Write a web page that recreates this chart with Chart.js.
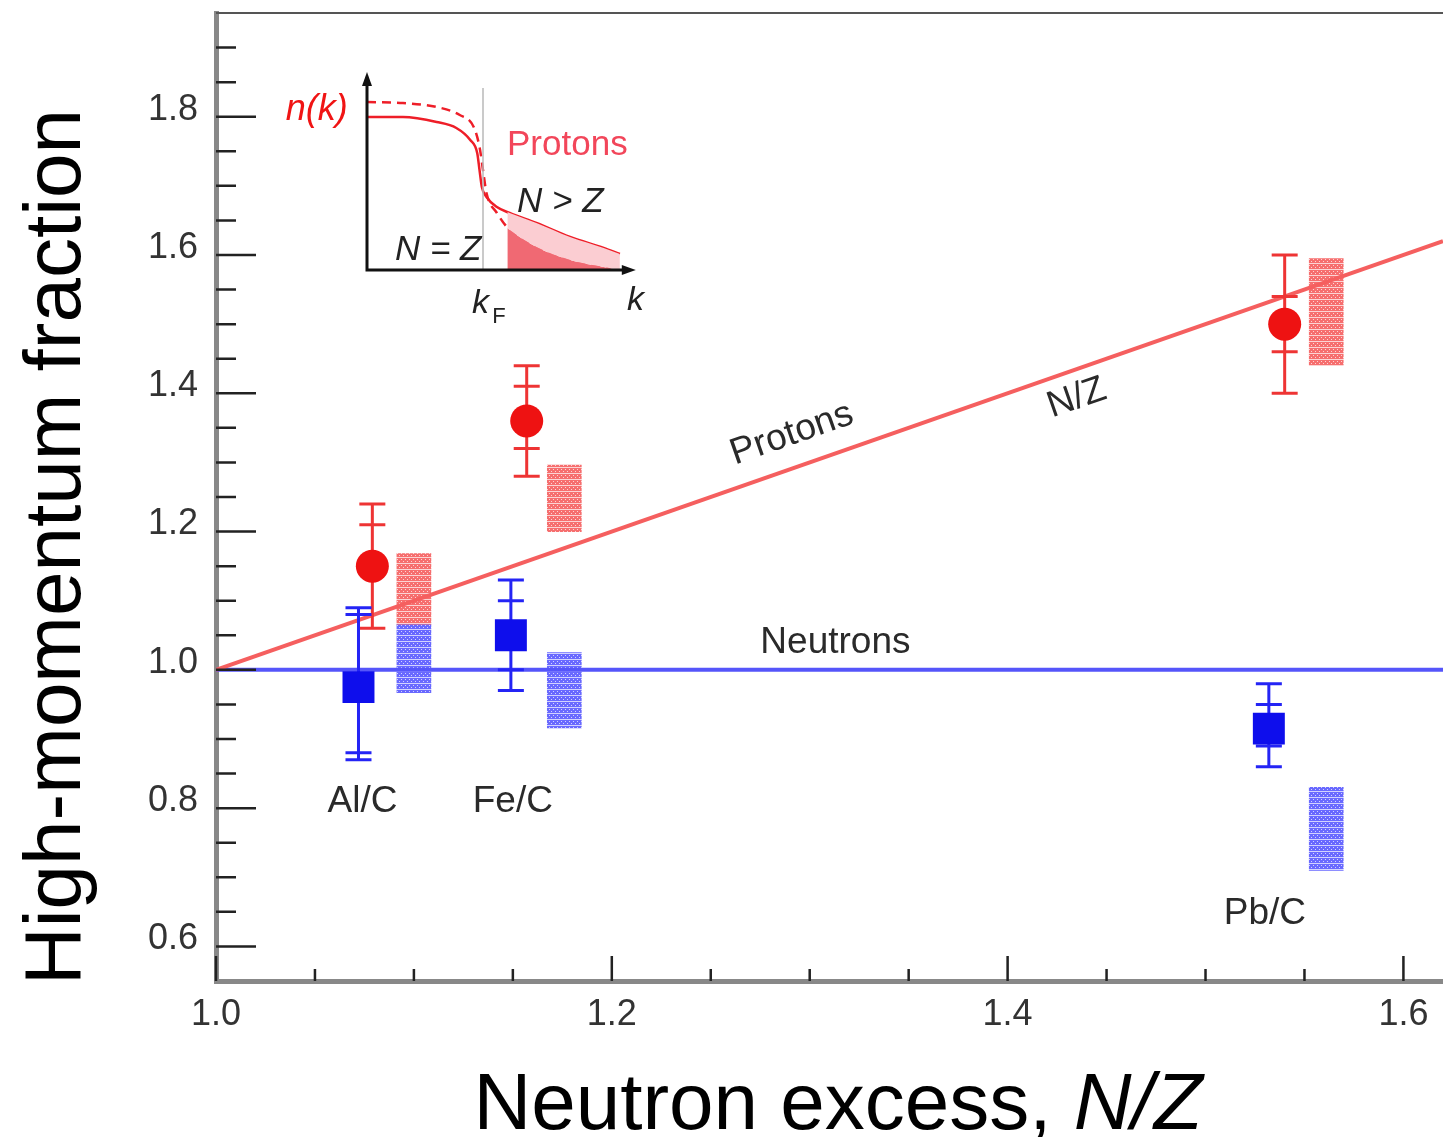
<!DOCTYPE html>
<html lang="en">
<head>
<meta charset="UTF-8">
<title>High-momentum fraction vs neutron excess</title>
<script src="https://cdn.jsdelivr.net/npm/chart.js"></script>
<style>
  body { margin: 0; background: #fff; }
  #wrap { position: relative; width: 1443px; height: 1137px; }
  #mainChart { position: absolute; left: 0; top: 0; }
  #insetChart { position: absolute; left: 280px; top: 60px; }
</style>
</head>
<body>
<div id="wrap">
  <canvas id="mainChart" width="1443" height="1137"></canvas>
  <canvas id="insetChart" width="380" height="280"></canvas>
</div>
<script>
// measured ratios (target / carbon)
const targets = ['Al/C', 'Fe/C', 'Pb/C'];
const protonX = [1.079, 1.157, 1.540];
const protonY = [1.15, 1.36, 1.50];
const protonStatLo = [1.06, 1.32, 1.46];
const protonStatHi = [1.21, 1.41, 1.54];
const protonTotLo = [1.06, 1.28, 1.40];
const protonTotHi = [1.24, 1.44, 1.60];

const neutronX = [1.072, 1.149, 1.532];
const neutronY = [0.975, 1.05, 0.915];
const neutronStatLo = [0.88, 1.00, 0.89];
const neutronStatHi = [1.08, 1.10, 0.95];
const neutronTotLo = [0.87, 0.97, 0.86];
const neutronTotHi = [1.09, 1.13, 0.98];

// theory bands, drawn just right of the data
const bandX = [1.100, 1.176, 1.561];
const protonBandLo = [1.066, 1.200, 1.440];
const protonBandHi = [1.168, 1.296, 1.595];
const neutronBandLo = [0.967, 0.916, 0.710];
const neutronBandHi = [1.066, 1.025, 0.830];

// reference lines
const lineX = [1.0, 1.62];
const protonLine = [1.0, 1.62];
const neutronLine = [1.0, 1.0];

// axes
const xMajor = [1.0, 1.2, 1.4, 1.6];
const xMinor = [1.05, 1.1, 1.15, 1.25, 1.3, 1.35, 1.45, 1.5, 1.55];
const yMajor = [0.6, 0.8, 1.0, 1.2, 1.4, 1.6, 1.8];
const yMinor = [0.65, 0.7, 0.75, 0.85, 0.9, 0.95, 1.05, 1.1, 1.15, 1.25, 1.3, 1.35,
                1.45, 1.5, 1.55, 1.65, 1.7, 1.75, 1.85, 1.9];

// inset: momentum distribution sketch (k in units of kF)
const kSolid = [0, 0.31, 0.60, 0.77, 0.89, 0.95, 0.97, 0.99, 1.03, 1.12, 1.23, 1.46, 1.75, 2.04, 2.18];
const nSolid = [1.53, 1.53, 1.48, 1.42, 1.30, 1.17, 1.00, 0.83, 0.73, 0.63, 0.57, 0.47, 0.33, 0.22, 0.16];
const kDashed = [0, 0.31, 0.60, 0.80, 0.92, 0.97, 1.00, 1.03, 1.12, 1.23, 1.46, 1.75, 2.04, 2.10];
const nDashed = [1.68, 1.67, 1.63, 1.55, 1.43, 1.23, 1.00, 0.77, 0.57, 0.40, 0.23, 0.10, 0.03, 0.02];
const shadeK = [1.21, 1.23, 1.46, 1.75, 2.04, 2.18];
const shadeHi = [0.58, 0.57, 0.47, 0.33, 0.22, 0.16];
const shadeLo = [0.42, 0.40, 0.23, 0.10, 0.03, 0.0];
const kFLineK = [1.0, 1.0];
const kFLineN = [0, 1.82];

const FONT = '"Liberation Sans", Arial, Helvetica, sans-serif';

// text annotations in data units
const notes = [
  { text: 'Al/C', x: 1.074, y: 0.809 },
  { text: 'Fe/C', x: 1.150, y: 0.809 },
  { text: 'Pb/C', x: 1.530, y: 0.647 },
  { text: 'Neutrons', x: 1.313, y: 1.039 }
];

const zip = (xs, ys) => xs.map((v, i) => ({ x: v, y: ys[i] }));

function dotted(base) {
  const t = document.createElement('canvas');
  t.width = 4; t.height = 6;
  const c = t.getContext('2d');
  c.fillStyle = base;
  c.fillRect(0, 0, 4, 6);
  c.fillStyle = 'rgba(255,255,255,0.7)';
  c.fillRect(1, 1, 1, 1);
  c.fillRect(3, 3, 1, 1);
  c.fillRect(0, 5, 4, 1);
  return c.createPattern(t, 'repeat');
}

function drawBars(ctx, x, y, xs, lo, hi, slo, shi, color) {
  ctx.save();
  ctx.strokeStyle = color;
  ctx.lineWidth = 3;
  xs.forEach((v, i) => {
    const px = x.getPixelForValue(v);
    ctx.beginPath();
    ctx.moveTo(px, y.getPixelForValue(lo[i]));
    ctx.lineTo(px, y.getPixelForValue(hi[i]));
    [lo[i], hi[i], slo[i], shi[i]].forEach(e => {
      const py = y.getPixelForValue(e);
      ctx.moveTo(px - 13, py);
      ctx.lineTo(px + 13, py);
    });
    ctx.stroke();
  });
  ctx.restore();
}

const errorBars = {
  id: 'errorBars',
  beforeDatasetDraw(chart, args) {
    const { ctx, scales: { x, y } } = chart;
    if (args.index === 4) drawBars(ctx, x, y, protonX, protonTotLo, protonTotHi, protonStatLo, protonStatHi, '#ee3434');
    if (args.index === 5) drawBars(ctx, x, y, neutronX, neutronTotLo, neutronTotHi, neutronStatLo, neutronStatHi, '#2424f5');
  }
};

const frame = {
  id: 'frame',
  afterDraw(chart) {
    const { ctx, chartArea: a, scales: { x, y } } = chart;
    ctx.save();
    // top frame line
    ctx.strokeStyle = '#555';
    ctx.lineWidth = 2;
    ctx.beginPath();
    ctx.moveTo(a.left, a.top);
    ctx.lineTo(a.right, a.top);
    ctx.stroke();

    // inward ticks
    ctx.strokeStyle = '#222';
    ctx.lineWidth = 2.5;
    ctx.beginPath();
    yMajor.forEach(v => { const p = y.getPixelForValue(v); ctx.moveTo(a.left, p); ctx.lineTo(a.left + 40, p); });
    yMinor.forEach(v => { const p = y.getPixelForValue(v); ctx.moveTo(a.left, p); ctx.lineTo(a.left + 20, p); });
    xMajor.forEach(v => { const p = x.getPixelForValue(v); ctx.moveTo(p, a.bottom); ctx.lineTo(p, a.bottom - 25); });
    xMinor.forEach(v => { const p = x.getPixelForValue(v); ctx.moveTo(p, a.bottom); ctx.lineTo(p, a.bottom - 12); });
    ctx.stroke();

    // labels in the plot
    ctx.fillStyle = '#2a2a2a';
    ctx.font = `37px ${FONT}`;
    ctx.textAlign = 'center';
    ctx.textBaseline = 'middle';
    notes.forEach(n => ctx.fillText(n.text, x.getPixelForValue(n.x), y.getPixelForValue(n.y)));

    const ang = Math.atan2(y.getPixelForValue(1.62) - y.getPixelForValue(1.0),
                           x.getPixelForValue(1.62) - x.getPixelForValue(1.0));
    [['Protons', 1.291, 1.341], ['N/Z', 1.435, 1.393]].forEach(([t, vx, vy]) => {
      ctx.save();
      ctx.translate(x.getPixelForValue(vx), y.getPixelForValue(vy));
      ctx.rotate(ang);
      ctx.fillText(t, 0, 0);
      ctx.restore();
    });

    // axis titles
    ctx.fillStyle = '#000';
    ctx.font = `80px ${FONT}`;
    ctx.textBaseline = 'alphabetic';
    ctx.save();
    ctx.translate(80, 547);
    ctx.rotate(-Math.PI / 2);
    ctx.fillText('High-momentum fraction', 0, 0);
    ctx.restore();

    const part1 = 'Neutron excess, ';
    const w1 = ctx.measureText(part1).width;
    ctx.font = `italic 80px ${FONT}`;
    const w2 = ctx.measureText('N/Z').width;
    const sx = 838 - (w1 + w2) / 2;
    ctx.textAlign = 'left';
    ctx.font = `80px ${FONT}`;
    ctx.fillText(part1, sx, 1129);
    ctx.font = `italic 80px ${FONT}`;
    ctx.fillText('N/Z', sx + w1, 1129);
    ctx.restore();
  }
};

// keep the plot box fixed: no extra room for overhanging tick labels
function pinBox(s, w, h) {
  if (w !== null) s.width = w;
  if (h !== null) s.height = h;
  s.paddingLeft = 0;
  s.paddingRight = 0;
  s.paddingTop = 0;
  s.paddingBottom = 0;
}

new Chart(document.getElementById('mainChart'), {
  type: 'scatter',
  data: {
    datasets: [
      {
        type: 'bar', label: 'Proton band', order: 3, grouped: false,
        data: bandX.map((v, i) => ({ x: v, y: [protonBandLo[i], protonBandHi[i]] })),
        backgroundColor: dotted('rgb(246,110,110)'), borderWidth: 0, barThickness: 34
      },
      {
        type: 'bar', label: 'Neutron band', order: 3, grouped: false,
        data: bandX.map((v, i) => ({ x: v, y: [neutronBandLo[i], neutronBandHi[i]] })),
        backgroundColor: dotted('rgb(105,105,255)'), borderWidth: 0, barThickness: 34
      },
      {
        type: 'line', label: 'Protons N/Z', order: 2,
        data: zip(lineX, protonLine),
        borderColor: 'rgb(245,95,95)', borderWidth: 4, pointRadius: 0
      },
      {
        type: 'line', label: 'Neutrons', order: 2,
        data: zip(lineX, neutronLine),
        borderColor: 'rgb(85,85,250)', borderWidth: 4, pointRadius: 0
      },
      {
        label: 'Protons', order: 1,
        data: zip(protonX, protonY),
        pointStyle: 'circle', pointRadius: 16.5, backgroundColor: 'rgb(238,18,18)', borderWidth: 0
      },
      {
        label: 'Neutrons data', order: 0,
        data: zip(neutronX, neutronY),
        pointStyle: 'rect', pointRadius: 22.6, backgroundColor: 'rgb(14,14,236)', borderWidth: 0
      }
    ]
  },
  options: {
    responsive: false,
    devicePixelRatio: 1,
    animation: false,
    events: [],
    layout: { autoPadding: false, padding: { top: 13, left: 0, right: 0, bottom: 0 } },
    plugins: { legend: { display: false }, tooltip: { enabled: false } },
    scales: {
      x: {
        type: 'linear', min: 1.0, max: 1.62, offset: false,
        afterFit: s => pinBox(s, null, 156),
        afterBuildTicks: s => { s.ticks = xMajor.map(value => ({ value })); },
        grid: { display: false, drawTicks: false },
        border: { display: true, color: '#888', width: 5 },
        ticks: { padding: 12, color: '#333', font: { size: 36, family: FONT }, callback: v => v.toFixed(1) }
      },
      y: {
        type: 'linear', min: 0.55, max: 1.95,
        afterFit: s => pinBox(s, 216, null),
        afterBuildTicks: s => { s.ticks = yMajor.map(value => ({ value })); },
        grid: { display: false, drawTicks: false },
        border: { display: true, color: '#888', width: 5 },
        ticks: { padding: 18, labelOffset: -7, color: '#333', font: { size: 36, family: FONT }, callback: v => v.toFixed(1) }
      }
    }
  },
  plugins: [errorBars, frame]
});

// inset sketch
const insetDecor = {
  id: 'insetDecor',
  afterDatasetsDraw(chart) {
    const { ctx, chartArea: a, scales: { x, y } } = chart;
    ctx.save();
    ctx.strokeStyle = '#111';
    ctx.fillStyle = '#111';
    ctx.lineWidth = 3;
    ctx.beginPath();
    ctx.moveTo(a.left, a.top + 8);
    ctx.lineTo(a.left, a.bottom);
    ctx.lineTo(a.right - 8, a.bottom);
    ctx.stroke();
    ctx.beginPath();
    ctx.moveTo(a.left, a.top - 3);
    ctx.lineTo(a.left - 5, a.top + 11);
    ctx.lineTo(a.left + 5, a.top + 11);
    ctx.closePath();
    ctx.fill();
    ctx.beginPath();
    ctx.moveTo(a.right + 2, a.bottom);
    ctx.lineTo(a.right - 12, a.bottom - 5);
    ctx.lineTo(a.right - 12, a.bottom + 5);
    ctx.closePath();
    ctx.fill();

    const put = (t, k, n, font, color) => {
      ctx.font = font;
      ctx.fillStyle = color;
      ctx.fillText(t, x.getPixelForValue(k), y.getPixelForValue(n));
    };
    ctx.textAlign = 'left';
    ctx.textBaseline = 'alphabetic';
    put('n(k)', -0.70, 1.50, `italic 36px ${FONT}`, 'rgb(240,20,20)');
    put('Protons', 1.207, 1.15, `35px ${FONT}`, 'rgb(242,70,90)');
    put('N > Z', 1.293, 0.58, `italic 35px ${FONT}`, '#222');
    put('N = Z', 0.241, 0.10, `italic 35px ${FONT}`, '#222');
    put('k', 0.905, -0.43, `italic 34px ${FONT}`, '#222');
    put('F', 1.08, -0.53, `22px ${FONT}`, '#222');
    put('k', 2.241, -0.40, `italic 34px ${FONT}`, '#222');
    ctx.restore();
  }
};

new Chart(document.getElementById('insetChart'), {
  type: 'line',
  data: {
    datasets: [
      {
        data: zip(shadeK, shadeHi), fill: '+1', backgroundColor: 'rgb(251,205,210)',
        borderWidth: 0, pointRadius: 0, cubicInterpolationMode: 'monotone'
      },
      {
        data: zip(shadeK, shadeLo), fill: 'origin', backgroundColor: 'rgb(240,105,115)',
        borderWidth: 0, pointRadius: 0, cubicInterpolationMode: 'monotone'
      },
      {
        data: zip(kFLineK, kFLineN), borderColor: 'rgb(185,185,185)', borderWidth: 1.5, pointRadius: 0
      },
      {
        data: zip(kDashed, nDashed), borderColor: 'rgb(238,30,40)', borderWidth: 2.5, borderDash: [9, 6],
        pointRadius: 0, cubicInterpolationMode: 'monotone'
      },
      {
        data: zip(kSolid, nSolid), borderColor: 'rgb(238,30,40)', borderWidth: 2.5,
        pointRadius: 0, cubicInterpolationMode: 'monotone'
      }
    ]
  },
  options: {
    responsive: false,
    devicePixelRatio: 1,
    animation: false,
    events: [],
    layout: { autoPadding: false, padding: { left: 87, right: 26.2, top: 15, bottom: 70 } },
    plugins: { legend: { display: false }, tooltip: { enabled: false } },
    scales: {
      x: { type: 'linear', min: 0, max: 2.3, display: false },
      y: { type: 'linear', min: 0, max: 1.95, display: false }
    }
  },
  plugins: [insetDecor]
});
</script>
</body>
</html>
